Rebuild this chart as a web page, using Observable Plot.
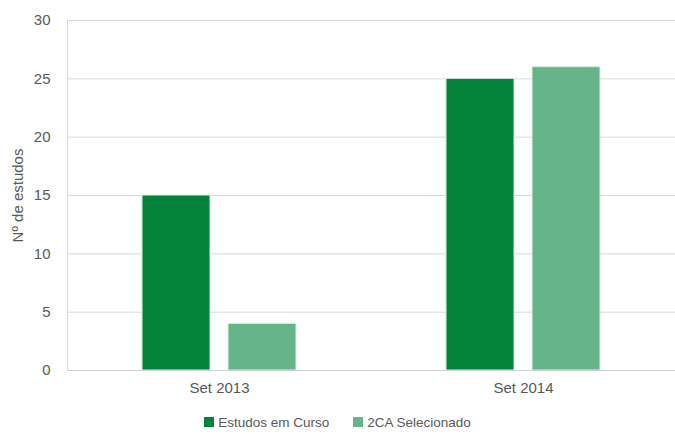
<!DOCTYPE html>
<html>
<head>
<meta charset="utf-8">
<script src="https://cdn.jsdelivr.net/npm/d3@7"></script>
<script src="https://cdn.jsdelivr.net/npm/@observablehq/plot@0.6"></script>
<style>
  html, body { margin: 0; padding: 0; background: #fff; }
  #chart { width: 675px; font-family: "Liberation Sans", sans-serif; }
  .legend { display: flex; justify-content: center; align-items: center; height: 24px; font-size: 13.5px; color: #595959; font-family: "Liberation Sans", sans-serif; }
  .legend .item { display: flex; align-items: center; margin: 0 12px; }
  .legend .sw { width: 10px; height: 10px; margin-right: 4px; display: inline-block; }
</style>
</head>
<body>
<div id="chart"></div>
<script>
const periods = ["Set 2013", "Set 2014"];
const series = ["Estudos em Curso", "2CA Selecionado"];
const estudosEmCurso = [15, 25];
const selecionado2CA = [4, 26];
const yTicks = [0, 5, 10, 15, 20, 25, 30];
const colors = ["#03823C", "#66B58A"];

const data = [];
periods.forEach((p, i) => {
  data.push({period: p, series: series[0], value: estudosEmCurso[i]});
  data.push({period: p, series: series[1], value: selecionado2CA[i]});
});

const plot = Plot.plot({
  width: 675,
  height: 410,
  marginLeft: 67,
  marginRight: 0,
  marginTop: 20,
  marginBottom: 40,
  style: {fontFamily: "Liberation Sans, sans-serif", fontSize: "15px", color: "#595959", background: "#fff"},
  fx: {domain: periods, padding: 0, label: null, axis: null},
  x: {domain: series, paddingInner: 0.21, paddingOuter: 0.87, axis: null},
  y: {domain: [0, 30], ticks: yTicks},
  color: {domain: series, range: colors},
  marks: [
    Plot.gridY(yTicks, {stroke: "#d9d9d9", strokeOpacity: 1}),
    Plot.frame({anchor: "left", facetAnchor: "left", stroke: "#d9d9d9"}),
    Plot.barY(data, {fx: "period", x: "series", y: "value", fill: "series", stroke: "#dcefe3", strokeWidth: 1}),
    Plot.ruleY([0], {stroke: "#d0d0d0"}),
    Plot.axisY(yTicks, {tickSize: 0, tickPadding: 17, label: "Nº de estudos", labelArrow: "none", labelAnchor: "center", labelOffset: 55, fontSize: 15}),
    Plot.axisFx({anchor: "bottom", tickSize: 0, tickPadding: 12, label: null, fontSize: 15})
  ]
});
document.getElementById("chart").appendChild(plot);

const legend = document.createElement("div");
legend.className = "legend";
series.forEach((s, i) => {
  const item = document.createElement("div");
  item.className = "item";
  const sw = document.createElement("span");
  sw.className = "sw";
  sw.style.background = colors[i];
  item.appendChild(sw);
  item.appendChild(document.createTextNode(s));
  legend.appendChild(item);
});
document.getElementById("chart").appendChild(legend);
</script>
</body>
</html>
